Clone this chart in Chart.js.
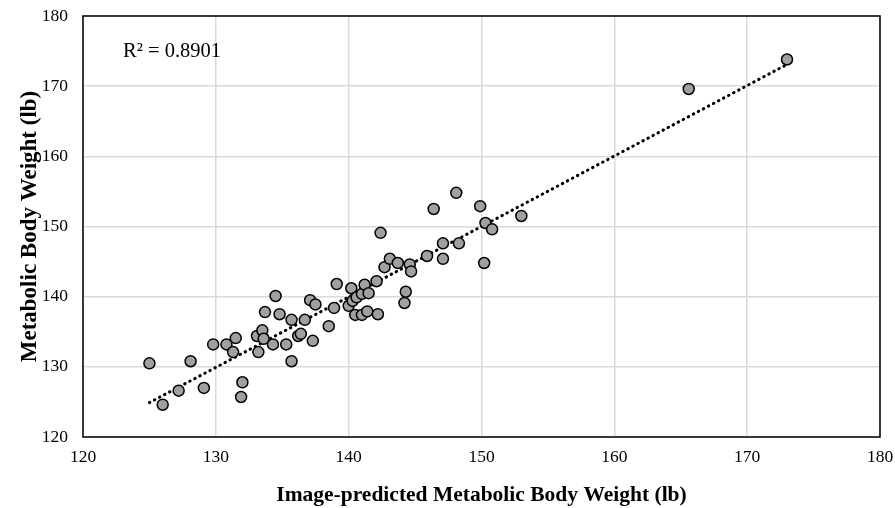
<!DOCTYPE html>
<html>
<head>
<meta charset="utf-8">
<script src="https://cdn.jsdelivr.net/npm/chart.js@4/dist/chart.umd.min.js"></script>
<style>
  html, body { margin: 0; padding: 0; background: #fff; }
  #wrap { width: 895px; height: 508px; }
</style>
</head>
<body>
<div id="wrap"><canvas id="chart" width="895" height="508"></canvas></div>
<script>
// values
const predicted = [
  125.0, 126.0, 127.2, 128.1, 129.1, 129.8, 130.8, 131.3, 131.5, 132.0,
  131.9, 133.1, 133.2, 133.5, 133.6, 133.7, 134.3, 134.5, 134.8, 135.3,
  135.7, 135.7, 136.2, 136.4, 136.7, 137.1, 137.3, 137.5, 138.5, 138.9,
  139.1, 140.0, 140.2, 140.3, 140.5, 140.6, 141.0, 141.0, 141.2, 141.4,
  141.5, 142.1, 142.2, 142.4, 142.7, 143.1, 143.7, 144.2, 144.3, 144.6,
  144.7, 145.9, 146.4, 147.1, 147.1, 148.1, 148.3, 149.9, 150.2, 150.3,
  150.8, 153.0, 165.6, 173.0
];
const metabolic = [
  130.5, 124.6, 126.6, 130.8, 127.0, 133.2, 133.2, 132.1, 134.1, 127.8,
  125.7, 134.4, 132.1, 135.2, 134.0, 137.8, 133.2, 140.1, 137.5, 133.2,
  136.7, 130.8, 134.4, 134.7, 136.7, 139.5, 133.7, 138.9, 135.8, 138.4,
  141.8, 138.7, 141.2, 139.4, 137.4, 139.9, 140.4, 137.4, 141.7, 137.9,
  140.5, 142.2, 137.5, 149.1, 144.2, 145.4, 144.8, 139.1, 140.7, 144.6,
  143.6, 145.8, 152.5, 147.6, 145.4, 154.8, 147.6, 152.9, 144.8, 150.5,
  149.6, 151.5, 169.6, 173.8
];
const trendX = [125, 173];
const trendY = [124.9, 173.1];
const rSquared = 'R² = 0.8901';
const xTicks = [120, 130, 140, 150, 160, 170, 180];
const yTicks = [120, 130, 140, 150, 160, 170, 180];

const serif = "'Liberation Serif', 'Times New Roman', serif";

// 外框 + R² 標籤
const boxPlugin = {
  id: 'boxPlugin',
  afterDatasetsDraw(chart) {
    const { ctx, chartArea: a } = chart;
    ctx.save();
    ctx.strokeStyle = '#000';
    ctx.lineWidth = 1.5;
    ctx.strokeRect(a.left, a.top, a.right - a.left, a.bottom - a.top);
    ctx.fillStyle = '#000';
    ctx.font = '20.5px ' + serif;
    ctx.textBaseline = 'alphabetic';
    ctx.fillText(rSquared, 123, 57);
    ctx.restore();
  }
};

new Chart(document.getElementById('chart'), {
  type: 'scatter',
  data: {
    datasets: [
      {
        label: 'trend',
        type: 'line',
        data: trendX.map((x, i) => ({ x: x, y: trendY[i] })),
        borderColor: '#000',
        borderWidth: 3,
        borderDash: [0.5, 5.2],
        borderCapStyle: 'round',
        pointRadius: 0,
        fill: false,
        order: 2
      },
      {
        label: 'data',
        data: predicted.map((x, i) => ({ x: x, y: metabolic[i] })),
        backgroundColor: '#A0A0A0',
        borderColor: '#000',
        borderWidth: 1.5,
        pointRadius: 5.5,
        order: 1
      }
    ]
  },
  options: {
    responsive: false,
    animation: false,
    layout: { padding: { left: 16, right: 15, top: 16, bottom: 0 } },
    plugins: { legend: { display: false }, tooltip: { enabled: false } },
    scales: {
      x: {
        type: 'linear',
        min: 120, max: 180,
        afterBuildTicks: s => { s.ticks = xTicks.map(v => ({ value: v })); },
        afterFit: s => { s.height = 71; s.paddingLeft = 0; s.paddingRight = 0; },
        grid: { color: '#D9D9D9', lineWidth: 1.5, drawTicks: false },
        border: { display: false },
        ticks: { color: '#000', padding: 10, font: { family: serif, size: 17.5 } },
        title: {
          display: true,
          text: 'Image-predicted Metabolic Body Weight (lb)',
          color: '#000',
          padding: 0,
          font: { family: serif, size: 21.5, weight: 'bold' }
        }
      },
      y: {
        type: 'linear',
        min: 120, max: 180,
        afterBuildTicks: s => { s.ticks = yTicks.map(v => ({ value: v })); },
        afterFit: s => { s.width = 67; s.paddingTop = 0; s.paddingBottom = 0; },
        grid: { color: '#D9D9D9', lineWidth: 1.5, drawTicks: false },
        border: { display: false },
        ticks: { color: '#000', padding: 15, font: { family: serif, size: 17.5 } },
        title: {
          display: true,
          text: 'Metabolic Body Weight (lb)',
          color: '#000',
          padding: 0,
          font: { family: serif, size: 23, weight: 'bold' }
        }
      }
    }
  },
  plugins: [boxPlugin]
});
</script>
</body>
</html>
